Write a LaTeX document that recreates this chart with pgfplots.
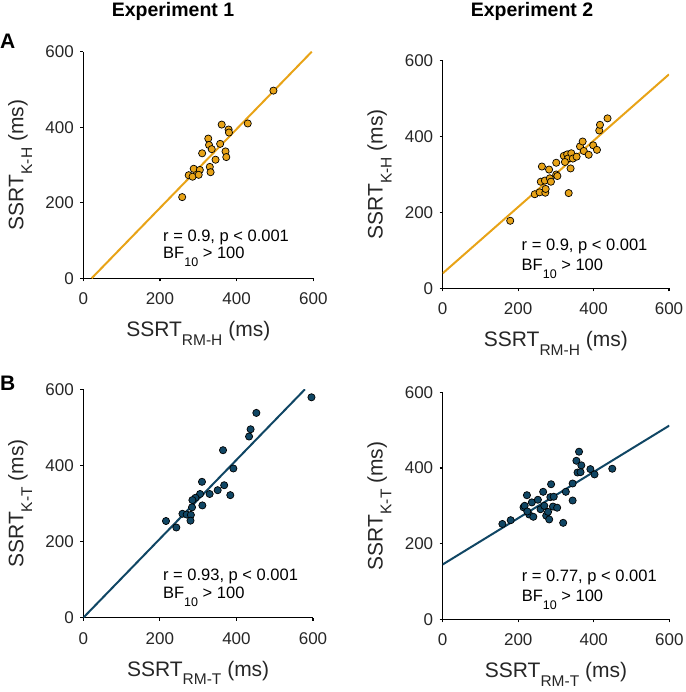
\documentclass[border=0pt]{standalone}
\usepackage{pgfplots}
\pgfplotsset{compat=1.18}
\usepackage{fontspec}
\setmainfont{Liberation Sans}

\definecolor{orng}{RGB}{232,163,23}
\definecolor{navy}{RGB}{16,70,100}

\newcommand{\lab}[2]{SSRT\raisebox{-0.42em}{\fontsize{15.5}{15}\selectfont #1}\ (ms)}
\newcommand{\stats}[1]{\fontsize{16.5}{18}\selectfont r = #1, p < 0.001}
\newcommand{\bfline}{\fontsize{16.5}{18}\selectfont BF\raisebox{-0.5em}{\fontsize{12.5}{12}\selectfont 10} > 100}

\pgfplotsset{
  panel/.style={
    scale only axis,
    xmin=0, xmax=600, ymin=0, ymax=600,
    xtick={0,200,400,600}, ytick={0,200,400,600},
    axis x line*=bottom, axis y line*=left,
    axis line style={line width=1.5pt, -},
    tick align=outside, major tick length=3pt,
    tick style={line width=1.2pt, black},
    /pgf/number format/assume math mode=true,
    ticklabel style={font=\fontsize{17}{20}\selectfont, color=black!85},
    xticklabel style={yshift=-8pt},
    yticklabel style={xshift=-3pt},
    label style={font=\fontsize{21}{24}\selectfont, color=black!85},
    clip=true,
  },
  dots/.style={only marks, mark=*, mark size=3.6pt,
    mark options={fill=#1, draw=black, line width=0.7pt}},
}

\begin{document}
\begin{tikzpicture}
\path[use as bounding box] (0,0) rectangle (685pt,-692pt);

\node[font=\bfseries\fontsize{19.5}{22}\selectfont] at (173pt,-11pt) {Experiment 1};
\node[font=\bfseries\fontsize{19.5}{22}\selectfont] at (532pt,-11pt) {Experiment 2};
\node[font=\bfseries\fontsize{21}{24}\selectfont, anchor=north west, inner sep=0pt] at (0pt,-34pt) {A};
\node[font=\bfseries\fontsize{21}{24}\selectfont, anchor=north west, inner sep=0pt] at (0pt,-376pt) {B};

% A, experiment 1
\begin{axis}[panel, at={(83.3pt,-278.3pt)}, anchor=south west, width=230pt, height=226.6pt,
  xlabel={\lab{RM-H}{}}, ylabel={\lab{K-H}{}},
  xlabel style={at={(axis description cs:0.5,-0.258)}, anchor=base},
  ylabel style={at={(axis description cs:-0.261,0.5)}, anchor=base}]
\addplot[orng, line width=2pt] coordinates {(21.7,0) (596,600)};
\addplot[dots=orng] coordinates {
(496,497)(429,410)(361,407)(379,394)(380,386)(326,370)(328,353)(357,356)(335,342)(310,331)(371,336)
(373,321)(345,314)(288,290)(304,287)(330,295)(332,281)(275,273)(285,269)(301,274)(258,215)};
\node[anchor=base west, inner sep=0pt] at (axis cs:208,97) {\stats{0.9}};
\node[anchor=base west, inner sep=0pt] at (axis cs:208,52) {\bfline};
\end{axis}

% A, experiment 2
\begin{axis}[panel, at={(442.7pt,-288.3pt)}, anchor=south west, width=226.3pt, height=227.6pt,
  xlabel={\lab{RM-H}{}}, ylabel={\lab{K-H}{}},
  xlabel style={at={(axis description cs:0.5,-0.257)}, anchor=base},
  ylabel style={at={(axis description cs:-0.265,0.5)}, anchor=base}]
\addplot[orng, line width=2pt] coordinates {(0,39.5) (600,564)};
\addplot[dots=orng] coordinates {
(179,178)(244,248)(257,253)(272,252)(273,262)(260,281)(271,284)(284,290)(287,281)(282,313)(263,321)
(301,300)(304,296)(301,331)(334,251)(339,316)(321,349)(330,353)(332,342)(341,356)(345,342)(355,347)
(364,374)(371,387)(374,362)(387,352)(399,377)(409,365)(415,416)(417,431)(437,448)(324,333)};
\node[anchor=base west, inner sep=0pt] at (axis cs:209,99) {\stats{0.9}};
\node[anchor=base west, inner sep=0pt] at (axis cs:209,47) {\bfline};
\end{axis}

% B, experiment 1
\begin{axis}[panel, at={(83.3pt,-617.7pt)}, anchor=south west, width=229.7pt, height=228.4pt,
  xlabel={\lab{RM-T}{}}, ylabel={\lab{K-T}{}},
  xlabel style={at={(axis description cs:0.5,-0.256)}, anchor=base},
  ylabel style={at={(axis description cs:-0.261,0.5)}, anchor=base}]
\addplot[navy, line width=2pt] coordinates {(0,0) (579,600)};
\addplot[dots=navy] coordinates {
(596,579)(452,538)(437,495)(433,476)(365,440)(392,392)(310,357)(368,348)(351,335)(330,325)(384,322)
(305,325)(293,315)(285,309)(311,295)(284,290)(259,273)(270,271)(281,270)(280,255)(216,254)(243,237)};
\node[anchor=base west, inner sep=0pt] at (axis cs:208,99) {\stats{0.93}};
\node[anchor=base west, inner sep=0pt] at (axis cs:208,51) {\bfline};
\end{axis}

% B, experiment 2
\begin{axis}[panel, at={(442.7pt,-619.3pt)}, anchor=south west, width=226.6pt, height=227pt,
  xlabel={\lab{RM-T}{}}, ylabel={\lab{K-T}{}},
  xlabel style={at={(axis description cs:0.5,-0.257)}, anchor=base},
  ylabel style={at={(axis description cs:-0.265,0.5)}, anchor=base}]
\addplot[navy, line width=2pt] coordinates {(0,145) (600,512)};
\addplot[dots=navy] coordinates {
(158,252)(180,262)(214,296)(217,300)(223,328)(229,277)(236,309)(240,271)(252,316)(259,291)(266,337)
(269,300)(274,274)(279,284)(282,264)(285,323)(287,357)(294,324)(292,298)(303,295)(319,255)(326,337)
(344,359)(344,314)(354,419)(361,443)(367,407)(357,388)(365,389)(391,397)(402,383)(449,398)(224,285)};
\node[anchor=base west, inner sep=0pt] at (axis cs:209,99) {\stats{0.77}};
\node[anchor=base west, inner sep=0pt] at (axis cs:209,48) {\bfline};
\end{axis}
\end{tikzpicture}
\end{document}
